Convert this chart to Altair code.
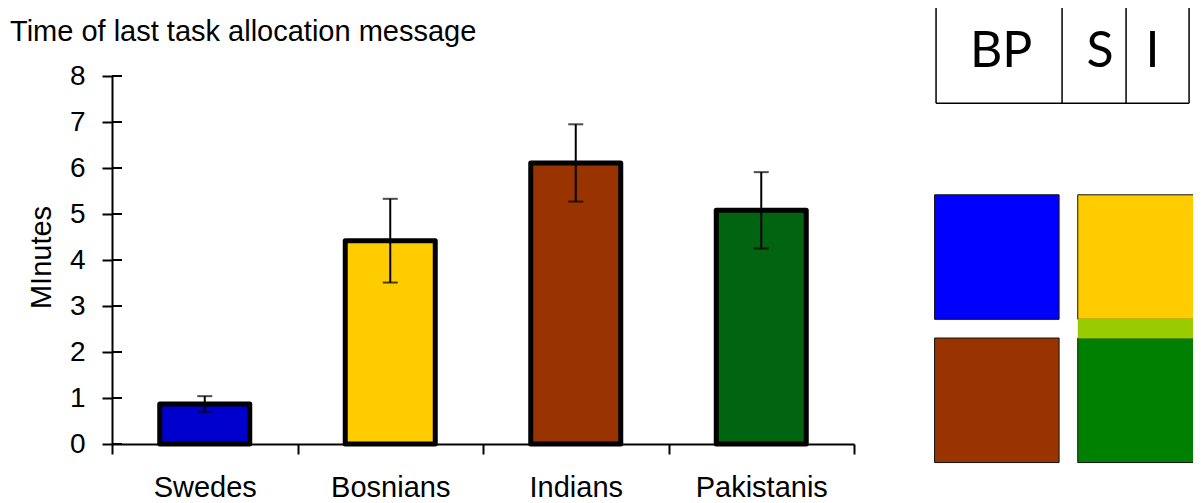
import altair as alt
import pandas as pd

# ---- main chart data ----
categories = ["Swedes", "Bosnians", "Indians", "Pakistanis"]
means = [0.87, 4.42, 6.11, 5.08]
errors = [0.17, 0.91, 0.84, 0.83]
bar_colors = ["#0000CC", "#FFCC00", "#993300", "#006411"]
y_ticks = [0, 1, 2, 3, 4, 5, 6, 7, 8]

# ---- diagram (right side), in square units ----
cell_labels = ["BP", "S", "I"]
label_x = [0.534, 1.329, 1.751]
label_y = [3.297, 3.297, 3.297]
box_edges_x = [0.012, 1.024, 1.538, 2.044]
box_bottom = 2.885
box_top = 3.66

square_names = ["Swedes", "Indians", "Bosnians", "Pakistanis", "Overlap"]
sq_x0 = [0.0, 0.0, 1.15, 1.15, 1.15]
sq_x1 = [1.0, 1.0, 2.15, 2.15, 2.15]
sq_y0 = [1.15, 0.0, 1.15, 0.0, 0.996]
sq_y1 = [2.15, 1.0, 2.15, 1.0, 1.154]
square_colors = ["#0000FF", "#993300", "#FFCC00", "#008000", "#99CC00"]

FONT = "Liberation Sans"

df = pd.DataFrame({"group": categories, "mean": means, "err": errors})
df["lo"] = df["mean"] - df["err"]
df["hi"] = df["mean"] + df["err"]

xenc = alt.X(
    "group:N",
    sort=categories,
    scale=alt.Scale(paddingInner=0, paddingOuter=0),
    axis=alt.Axis(
        title=None, labelAngle=0, tickBand="extent", labelFontSize=29,
        labelFont=FONT, labelColor="black", labelPadding=19, tickSize=10,
        tickWidth=2, tickColor="black", domainColor="black", domainWidth=2,
    ),
)
yscale = alt.Scale(domain=[0, 8], nice=False)

base = alt.Chart(df)
bars = base.mark_bar(stroke="black", strokeWidth=5, strokeJoin="round", size=90).encode(
    x=xenc,
    y=alt.Y(
        "mean:Q",
        scale=yscale,
        axis=alt.Axis(
            title="MInutes", values=y_ticks, grid=False, labelFontSize=28,
            labelFont=FONT, labelColor="black", labelPadding=17, tickSize=10,
            tickWidth=2, tickColor="black", domainColor="black", domainWidth=2,
            titleFont=FONT, titleFontSize=29, titleFontWeight="normal",
            titleColor="black", titleX=-71, titleY=181, titleBaseline="middle",
            titleAlign="center", titleAngle=-90,
        ),
    ),
    color=alt.Color("group:N", scale=alt.Scale(domain=categories, range=bar_colors), legend=None),
)
err_rule = base.mark_rule(color="black", strokeWidth=2).encode(
    x=alt.X("group:N", sort=categories), y="lo:Q", y2="hi:Q"
)
cap_lo = base.mark_tick(color="black", size=15, thickness=2).encode(
    x=alt.X("group:N", sort=categories), y="lo:Q"
)
cap_hi = base.mark_tick(color="black", size=15, thickness=2).encode(
    x=alt.X("group:N", sort=categories), y="hi:Q"
)
inner_ticks = alt.Chart(pd.DataFrame({"v": y_ticks})).mark_rule(color="black", strokeWidth=2).encode(
    y="v:Q", x=alt.value(0), x2=alt.value(10)
)

main = alt.layer(bars, err_rule, cap_lo, cap_hi, inner_ticks)

# diagram layers
dx = alt.Scale(domain=[-6.606, -0.647], nice=False, zero=False)
dy = alt.Scale(domain=[0.149, 3.104], nice=False, zero=False)

sq_df = pd.DataFrame({"name": square_names, "x0": sq_x0, "x1": sq_x1, "y0": sq_y0, "y1": sq_y1})
lab_df = pd.DataFrame({"label": cell_labels, "lx": label_x, "ly": label_y})
vline_df = pd.DataFrame({"x": box_edges_x, "y0": [box_bottom] * 4, "y1": [box_top] * 4})
hline_df = pd.DataFrame({"y": [box_bottom], "x0": [box_edges_x[0]], "x1": [box_edges_x[-1]]})

color_sq = alt.Color("name:N", scale=alt.Scale(domain=square_names, range=square_colors), legend=None)
squares = alt.Chart(sq_df).mark_rect(stroke="#111111", strokeWidth=1).encode(
    x=alt.X("x0:Q", scale=dx, axis=None), x2="x1:Q",
    y=alt.Y("y0:Q", scale=dy, axis=None), y2="y1:Q",
    color=color_sq,
).transform_filter(alt.datum.name != "Overlap")
overlap = alt.Chart(sq_df).mark_rect(strokeWidth=0).encode(
    x=alt.X("x0:Q", scale=dx, axis=None), x2="x1:Q",
    y=alt.Y("y0:Q", scale=dy, axis=None), y2="y1:Q",
    color=color_sq,
).transform_filter(alt.datum.name == "Overlap")
vlines = alt.Chart(vline_df).mark_rule(color="black", strokeWidth=1.5).encode(
    x=alt.X("x:Q", scale=dx, axis=None),
    y=alt.Y("y0:Q", scale=dy, axis=None), y2="y1:Q",
)
hlines = alt.Chart(hline_df).mark_rule(color="black", strokeWidth=1.5).encode(
    x=alt.X("x0:Q", scale=dx, axis=None), x2="x1:Q",
    y=alt.Y("y:Q", scale=dy, axis=None),
)
cell_text = alt.Chart(lab_df).mark_text(
    font="Lato", fontWeight=400, fontSize=50, color="black", align="center", baseline="middle"
).encode(
    x=alt.X("lx:Q", scale=dx, axis=None),
    y=alt.Y("ly:Q", scale=dy, axis=None),
    text="label:N",
)
diagram = alt.layer(vlines, hlines, cell_text, squares, overlap)

chart = alt.layer(main, diagram).resolve_scale(
    x="independent", y="independent", color="independent"
).properties(
    width=742,
    height=368,
    autosize="none",
    padding={"left": 104, "top": 68, "right": 339, "bottom": 59},
    title=alt.TitleParams(
        "Time of last task allocation message", anchor="start", frame="group",
        dx=-102, dy=45, fontSize=29, font=FONT, fontWeight="normal", color="black",
    ),
).configure_view(stroke=None)

chart.save("out.html", embed_options={"renderer": "svg", "actions": False})
